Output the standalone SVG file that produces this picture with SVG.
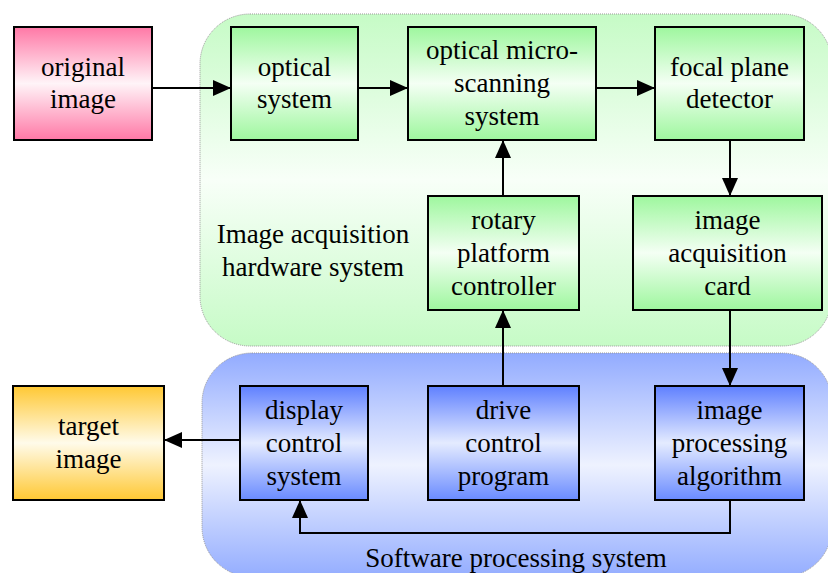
<svg xmlns="http://www.w3.org/2000/svg" width="828" height="573" viewBox="0 0 828 573">
<defs>
<linearGradient id="gGreen" x1="0" y1="0" x2="0" y2="1">
<stop offset="0" stop-color="#9ef79e"/><stop offset="0.5" stop-color="#f4fff4"/><stop offset="1" stop-color="#9ef79e"/>
</linearGradient>
<linearGradient id="gPink" x1="0" y1="0" x2="0" y2="1">
<stop offset="0" stop-color="#ff78a6"/><stop offset="0.5" stop-color="#fff4f8"/><stop offset="1" stop-color="#ff78a6"/>
</linearGradient>
<linearGradient id="gYellow" x1="0" y1="0" x2="0" y2="1">
<stop offset="0" stop-color="#ffc833"/><stop offset="0.5" stop-color="#fffbea"/><stop offset="1" stop-color="#ffc833"/>
</linearGradient>
<linearGradient id="gBlue" x1="0" y1="0" x2="0" y2="1">
<stop offset="0" stop-color="#5f80ff"/><stop offset="0.5" stop-color="#e4ebff"/><stop offset="1" stop-color="#6a8bff"/>
</linearGradient>
<linearGradient id="gRegGreen" x1="0" y1="0" x2="0" y2="1">
<stop offset="0" stop-color="#c6fbc6"/><stop offset="0.5" stop-color="#f8fff8"/><stop offset="1" stop-color="#c6fbc6"/>
</linearGradient>
<linearGradient id="gRegBlue" x1="0" y1="0" x2="0" y2="1">
<stop offset="0" stop-color="#92abff"/><stop offset="0.5" stop-color="#eef2ff"/><stop offset="1" stop-color="#94adff"/>
</linearGradient>
<marker id="arr" markerUnits="userSpaceOnUse" markerWidth="18" markerHeight="16" refX="18" refY="8" orient="auto">
<path d="M0,0 L18,8 L0,16 z" fill="#000"/>
</marker>
</defs>
<style>
.box{stroke:#000;stroke-width:2}
.reg{stroke:#999;stroke-width:1;stroke-dasharray:1 1}
text{font-family:'Liberation Serif','DejaVu Serif',serif;font-size:27px;fill:#000;text-anchor:middle}
.con{stroke:#000;stroke-width:2;fill:none}
</style>
<g font-family="Liberation Serif, DejaVu Serif, serif" font-size="27" text-anchor="middle">
<g id="region-hardware">
<rect class="reg" x="200" y="14" width="632" height="332" rx="50" fill="url(#gRegGreen)"/>
<text x="313" y="243">Image acquisition</text>
<text x="313" y="276">hardware system</text>
</g>
<g id="region-software">
<rect class="reg" x="202" y="353" width="630" height="224" rx="50" fill="url(#gRegBlue)"/>
<text x="516" y="567">Software processing system</text>
</g>
<g id="connectors">
<line class="con" x1="152" y1="88" x2="231" y2="88" marker-end="url(#arr)"/>
<line class="con" x1="358" y1="88" x2="408" y2="88" marker-end="url(#arr)"/>
<line class="con" x1="596" y1="88" x2="655" y2="88" marker-end="url(#arr)"/>
<line class="con" x1="730" y1="140" x2="730" y2="196" marker-end="url(#arr)"/>
<line class="con" x1="503" y1="196" x2="503" y2="140" marker-end="url(#arr)"/>
<line class="con" x1="503" y1="386" x2="503" y2="310" marker-end="url(#arr)"/>
<line class="con" x1="730" y1="310" x2="730" y2="386" marker-end="url(#arr)"/>
<line class="con" x1="240" y1="440" x2="164" y2="440" marker-end="url(#arr)"/>
<path class="con" d="M730,500 V533 H300 V500" marker-end="url(#arr)"/>
</g>
<g id="original-image">
<rect class="box" x="14" y="27" width="138" height="113" fill="url(#gPink)"/>
<text x="83" y="76">original</text><text x="83" y="108">image</text>
</g>
<g id="optical-system">
<rect class="box" x="231" y="27" width="127" height="113" fill="url(#gGreen)"/>
<text x="294.5" y="76">optical</text><text x="294.5" y="108">system</text>
</g>
<g id="optical-micro-scanning">
<rect class="box" x="408" y="27" width="188" height="113" fill="url(#gGreen)"/>
<text x="502" y="59">optical micro-</text><text x="502" y="92">scanning</text><text x="502" y="125">system</text>
</g>
<g id="focal-plane-detector">
<rect class="box" x="655" y="27" width="149" height="113" fill="url(#gGreen)"/>
<text x="729.5" y="76">focal plane</text><text x="729.5" y="108">detector</text>
</g>
<g id="rotary-platform-controller">
<rect class="box" x="428" y="196" width="151" height="114" fill="url(#gGreen)"/>
<text x="503.5" y="229">rotary</text><text x="503.5" y="262">platform</text><text x="503.5" y="295">controller</text>
</g>
<g id="image-acquisition-card">
<rect class="box" x="633" y="196" width="189" height="114" fill="url(#gGreen)"/>
<text x="727.5" y="229">image</text><text x="727.5" y="262">acquisition</text><text x="727.5" y="295">card</text>
</g>
<g id="target-image">
<rect class="box" x="13" y="386" width="151" height="114" fill="url(#gYellow)"/>
<text x="88.5" y="435">target</text><text x="88.5" y="468">image</text>
</g>
<g id="display-control-system">
<rect class="box" x="240" y="386" width="128" height="114" fill="url(#gBlue)"/>
<text x="304" y="419">display</text><text x="304" y="452">control</text><text x="304" y="485">system</text>
</g>
<g id="drive-control-program">
<rect class="box" x="428" y="386" width="151" height="114" fill="url(#gBlue)"/>
<text x="503.5" y="419">drive</text><text x="503.5" y="452">control</text><text x="503.5" y="485">program</text>
</g>
<g id="image-processing-algorithm">
<rect class="box" x="655" y="386" width="149" height="114" fill="url(#gBlue)"/>
<text x="729.5" y="419">image</text><text x="729.5" y="452">processing</text><text x="729.5" y="485">algorithm</text>
</g>
</g>
</svg>
